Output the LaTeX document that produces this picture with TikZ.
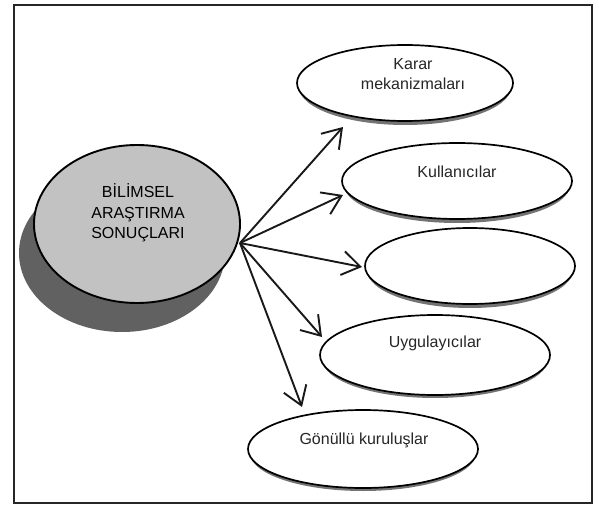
\documentclass[tikz,border=0pt]{standalone}
\usepackage{fontspec}
\setmainfont{Liberation Sans}
\usetikzlibrary{shapes.geometric,arrows.meta}

\tikzset{
  frame/.style={draw=black!85, line width=1.8pt},
  bubble/.style={ellipse, draw=black, line width=1.7pt, fill=white, inner sep=0pt},
  bubbleshadow/.style={ellipse, fill=black!55, draw=none, inner sep=0pt},
  mainbubble/.style={ellipse, draw=black, line width=1.9pt, fill=black!24, inner sep=0pt},
  mainshadow/.style={ellipse, fill=black!62, draw=none, inner sep=0pt},
  label/.style={font=\fontsize{16}{20}\selectfont, align=center, text=black!85},
  mainlabel/.style={font=\fontsize{16}{20.5}\selectfont, align=center, text=black},
  link/.style={draw=black!90, line width=1.9pt, -{Straight Barb[length=18pt, width=24pt, line width=1.9pt]}}
}

\begin{document}
\begin{tikzpicture}[x=1pt, y=-1pt]
  \useasboundingbox (0,0) rectangle (599,505);
  \fill[white] (0,0) rectangle (599,505);

  % outer frame
  \draw[frame] (14,5) rectangle (592,503);

  % central topic with its shadow
  \node[mainshadow, minimum width=206pt, minimum height=158pt] (mainsh) at (122,253) {};
  \node[mainbubble, minimum width=206pt, minimum height=158pt] (main) at (137,224) {};
  \node[mainlabel] (maintxt) at (138,213) {BİLİMSEL\\ARAŞTIRMA\\SONUÇLARI};

  % target groups: shadows first, then the bubbles
  \node[bubbleshadow, minimum width=212pt, minimum height=76pt] (s1) at (405,87) {};
  \node[bubbleshadow, minimum width=226pt, minimum height=76pt] (s2) at (457,185) {};
  \node[bubbleshadow, minimum width=206pt, minimum height=76pt] (s3) at (470,270) {};
  \node[bubbleshadow, minimum width=226pt, minimum height=78pt] (s4) at (435,359) {};
  \node[bubbleshadow, minimum width=226pt, minimum height=76pt] (s5) at (363,453) {};

  \node[bubble, minimum width=216pt, minimum height=76pt] (e1) at (405,83) {};
  \node[bubble, minimum width=230pt, minimum height=76pt] (e2) at (457,181) {};
  \node[bubble, minimum width=210pt, minimum height=76pt] (e3) at (470,266) {};
  \node[bubble, minimum width=230pt, minimum height=80pt] (e4) at (435,355) {};
  \node[bubble, minimum width=230pt, minimum height=78pt] (e5) at (363,449) {};

  \node[label] (t1) at (413,74) {Karar\\mekanizmaları};
  \node[label] (t2) at (457,172) {Kullanıcılar};
  \node[label] (t4) at (435,343) {Uygulayıcılar};
  \node[label] (t5) at (364,440) {Gönüllü kuruluşlar};

  % arrows fanning out from one point on the central bubble
  \coordinate (hub) at (240,243);
  \coordinate (a1) at (343,127);
  \coordinate (a2) at (343,195);
  \coordinate (a3) at (362,267);
  \coordinate (a4) at (322,337);
  \coordinate (a5) at (302,407);

  \draw[link] (hub) -- (a1);
  \draw[link] (hub) -- (a2);
  \draw[link] (hub) -- (a3);
  \draw[link] (hub) -- (a4);
  \draw[link] (hub) -- (a5);
\end{tikzpicture}
\end{document}
